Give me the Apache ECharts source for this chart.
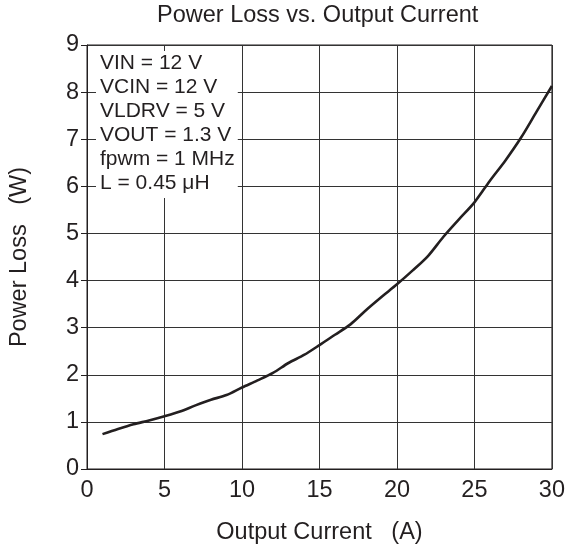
<!DOCTYPE html>
<html>
<head>
<meta charset="utf-8">
<script src="https://cdn.jsdelivr.net/npm/echarts@6/dist/echarts.min.js"></script>
<style>html,body{margin:0;padding:0;background:#fff}#c{width:568px;height:552px}</style>
</head>
<body>
<div id="c"></div>
<script>
var current = [1,2,3,4,5,6,7,8,9,10,11,12,13,14,15,16,17,18,19,20,21,22,23,24,25,26,27,28,29,30];
var powerLoss = [0.74,0.85,0.95,1.03,1.12,1.22,1.35,1.47,1.57,1.73,1.88,2.04,2.25,2.42,2.63,2.85,3.07,3.37,3.65,3.92,4.21,4.52,4.93,5.30,5.66,6.12,6.55,7.03,7.58,8.13];
var conditions = ['VIN = 12 V','VCIN = 12 V','VLDRV = 5 V','VOUT = 1.3 V','fpwm = 1 MHz','L = 0.45 μH'];
var xTicks = [0,5,10,15,20,25,30];
var yTicks = [0,1,2,3,4,5,6,7,8,9];

var FONT = '"Liberation Sans", Arial, sans-serif';
var INK = '#231f20';
var chart = echarts.init(document.getElementById('c'), null, {renderer:'canvas'});
chart.setOption({
  animation: false,
  backgroundColor: '#fff',
  title: [
    {text: 'Power Loss vs. Output Current', left: 157, top: 4, padding: 0,
     textStyle: {fontFamily: FONT, fontSize: 23.5, fontWeight: 'normal', color: INK}},
    {text: conditions.join('\n'), left: 96, top: 51, padding: [0, 3, 3, 4],
     backgroundColor: '#fff', z: 10,
     textStyle: {fontFamily: FONT, fontSize: 21, fontWeight: 'normal', color: INK, lineHeight: 24}}
  ],
  grid: {left: 86, right: 15, top: 45, bottom: 83, show: true, borderColor: INK, borderWidth: 1},
  xAxis: {
    type: 'value', min: xTicks[0], max: xTicks[xTicks.length-1], interval: 5,
    name: 'Output Current   (A)', nameLocation: 'middle', nameGap: 52,
    nameTextStyle: {fontFamily: FONT, fontSize: 23.5, color: INK},
    axisLine: {show: true, lineStyle: {color: INK, width: 1}},
    axisTick: {show: false},
    axisLabel: {margin: 10, fontFamily: FONT, fontSize: 23.5, color: INK},
    splitLine: {show: true, lineStyle: {color: '#333', width: 1}}
  },
  yAxis: {
    type: 'value', min: yTicks[0], max: yTicks[yTicks.length-1], interval: 1,
    name: 'Power Loss   (W)', nameLocation: 'middle', nameGap: 55,
    nameTextStyle: {fontFamily: FONT, fontSize: 23.5, color: INK},
    axisLine: {show: true, lineStyle: {color: INK, width: 1}},
    axisTick: {show: true, inside: false, length: 6, lineStyle: {color: INK}},
    axisLabel: {margin: 8, fontFamily: FONT, fontSize: 23.5, color: INK},
    splitLine: {show: true, lineStyle: {color: '#333', width: 1}}
  },
  series: [{
    type: 'line',
    data: current.map(function(x, i){ return [x, powerLoss[i]]; }),
    showSymbol: false, symbol: 'none', smooth: 0.3,
    lineStyle: {color: INK, width: 2.6},
    z: 3
  }]
});
</script>
</body>
</html>
